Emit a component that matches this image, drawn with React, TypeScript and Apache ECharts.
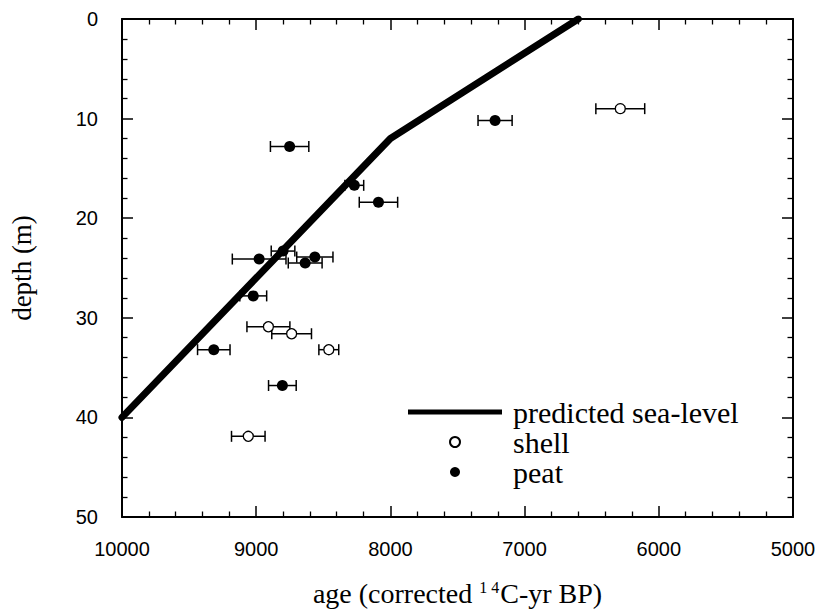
import React, { useEffect, useRef } from 'react';
import * as echarts from 'echarts';

// predicted sea-level curve (age in corrected 14C-yr BP, depth in m)
const lineAge = [10000, 8000, 6600];
const lineDepth = [40, 12, 0];

// peat samples
const peatAge = [8751, 7220, 8269, 8089, 8978, 8800, 8563, 8635, 9022, 9316, 8805];
const peatDepth = [12.8, 10.2, 16.7, 18.4, 24.1, 23.3, 23.9, 24.5, 27.8, 33.2, 36.8];
const peatErr = [143, 127, 70, 143, 200, 88, 135, 126, 100, 121, 103];

// shell samples
const shellAge = [6287, 8909, 8736, 8459, 9059];
const shellDepth = [9.0, 30.9, 31.6, 33.2, 41.9];
const shellErr = [182, 160, 148, 74, 125];

const xTicks = [5000, 6000, 7000, 8000, 9000, 10000];
const yTicks = [0, 10, 20, 30, 40, 50];

export default function App() {
  const ref = useRef<HTMLDivElement>(null);
  useEffect(() => {
    document.body.style.margin = '0';
    const chart = echarts.init(ref.current as HTMLDivElement, null, { renderer: 'svg' });

    const errRender = (params: any, api: any) => {
      const depth = api.value(1);
      const p1 = api.coord([api.value(2), depth]);
      const p2 = api.coord([api.value(3), depth]);
      const h = 5.5;
      const style = { stroke: '#000', lineWidth: 1.5 };
      return {
        type: 'group',
        children: [
          { type: 'line', shape: { x1: p1[0], y1: p1[1], x2: p2[0], y2: p2[1] }, style },
          { type: 'line', shape: { x1: p1[0], y1: p1[1] - h, x2: p1[0], y2: p1[1] + h }, style },
          { type: 'line', shape: { x1: p2[0], y1: p2[1] - h, x2: p2[0], y2: p2[1] + h }, style },
        ],
      };
    };

    const lineData = lineAge.map((a, i) => [a, lineDepth[i]]);
    const peatData = peatAge.map((a, i) => [a, peatDepth[i]]);
    const shellData = shellAge.map((a, i) => [a, shellDepth[i]]);
    const peatErrData = peatAge.map((a, i) => [a, peatDepth[i], a - peatErr[i], a + peatErr[i]]);
    const shellErrData = shellAge.map((a, i) => [a, shellDepth[i], a - shellErr[i], a + shellErr[i]]);

    const axisLine = { show: true, onZero: false, lineStyle: { color: '#000', width: 2 } };
    const axisTick = { show: true, inside: true, length: 11, lineStyle: { color: '#000', width: 1.5 } };
    const minorTick = { show: true, splitNumber: 5, length: 5.5, lineStyle: { color: '#000', width: 1.3 } };
    const labelStyle = { color: '#000', fontSize: 20, fontFamily: 'Liberation Sans' };
    const nameStyle = { color: '#000', fontSize: 27, fontFamily: 'Liberation Serif' };

    const xMin = xTicks[0];
    const xMax = xTicks[xTicks.length - 1];
    const yMin = yTicks[0];
    const yMax = yTicks[yTicks.length - 1];

    chart.setOption({
      animation: false,
      backgroundColor: '#fff',
      grid: { left: 118, top: 19, right: 29, bottom: 89, show: false },
      legend: {
        orient: 'vertical',
        left: 408,
        top: 397,
        padding: 0,
        itemWidth: 94,
        itemHeight: 10,
        itemGap: 0,
        data: [
          { name: 'predicted sea-level', icon: 'path://M0,0L94,0L94,5L0,5Z' },
          'shell',
          'peat',
        ],
        textStyle: {
          color: '#000',
          fontSize: 30,
          fontFamily: 'Liberation Serif',
          lineHeight: 29.5,
          padding: [0, 0, 0, 6],
        },
      },
      xAxis: [
        {
          type: 'value',
          position: 'bottom',
          min: xMin,
          max: xMax,
          interval: 1000,
          inverse: true,
          axisLine,
          axisTick,
          minorTick,
          splitLine: { show: false },
          axisLabel: { ...labelStyle, margin: 22, formatter: (v: number) => String(v) },
          name: 'age (corrected {sup|1 4}C-yr BP)',
          nameLocation: 'middle',
          nameGap: 62,
          nameTextStyle: {
            ...nameStyle,
            fontSize: 28,
            rich: {
              sup: { fontSize: 16, fontFamily: 'Liberation Serif', color: '#000', verticalAlign: 'top', padding: [0, 1, 0, 0] },
            },
          },
        },
        {
          type: 'value',
          position: 'top',
          min: xMin,
          max: xMax,
          interval: 1000,
          inverse: true,
          axisLine,
          axisTick,
          minorTick,
          splitLine: { show: false },
          axisLabel: { show: false },
        },
      ],
      yAxis: [
        {
          type: 'value',
          position: 'left',
          min: yMin,
          max: yMax,
          interval: 10,
          inverse: true,
          axisLine,
          axisTick,
          minorTick,
          splitLine: { show: false },
          axisLabel: { ...labelStyle, margin: 24 },
          name: 'depth (m)',
          nameLocation: 'middle',
          nameRotate: 90,
          nameGap: 87,
          nameTextStyle: nameStyle,
        },
        {
          type: 'value',
          position: 'right',
          min: yMin,
          max: yMax,
          interval: 10,
          inverse: true,
          axisLine,
          axisTick,
          minorTick,
          splitLine: { show: false },
          axisLabel: { show: false },
        },
      ],
      series: [
        {
          name: 'peat-err',
          type: 'custom',
          renderItem: errRender,
          data: peatErrData,
          encode: { x: [0, 2, 3], y: 1 },
          z: 1,
          silent: true,
        },
        {
          name: 'shell-err',
          type: 'custom',
          renderItem: errRender,
          data: shellErrData,
          encode: { x: [0, 2, 3], y: 1 },
          z: 1,
          silent: true,
        },
        {
          name: 'shell',
          type: 'scatter',
          data: shellData,
          symbol: 'circle',
          symbolSize: 10,
          itemStyle: { color: '#fff', borderColor: '#000', borderWidth: 1.3, opacity: 1 },
          z: 3,
        },
        {
          name: 'peat',
          type: 'scatter',
          data: peatData,
          symbol: 'circle',
          symbolSize: 11,
          itemStyle: { color: '#000', opacity: 1 },
          z: 3,
        },
        {
          name: 'predicted sea-level',
          type: 'line',
          data: lineData,
          symbol: 'none',
          lineStyle: { color: '#000', width: 7, cap: 'round' },
          itemStyle: { color: '#000' },
          z: 4,
        },
      ],
    });
    return () => chart.dispose();
  }, []);
  return <div ref={ref} style={{ width: 822, height: 612 }} />;
}
